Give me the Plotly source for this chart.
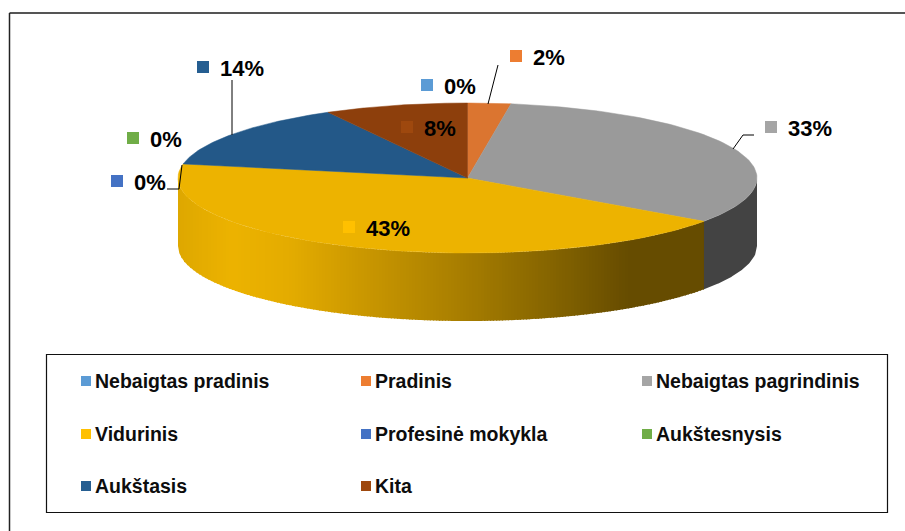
import numpy as np
import plotly.graph_objects as go

categories = ['Nebaigtas pradinis', 'Pradinis', 'Nebaigtas pagrindinis', 'Vidurinis',
              'Profesinė mokykla', 'Aukštesnysis', 'Aukštasis', 'Kita']
values = [0, 2.4, 32.4, 43.2, 0, 0, 14, 8]
pct_labels = ['0%', '2%', '33%', '43%', '0%', '0%', '14%', '8%']
legend_colors = ['#5B9BD5', '#ED7D31', '#A5A5A5', '#FFC000', '#4472C4', '#70AD47', '#255E91', '#9E480E']
top_colors = ['#5B9BD5', '#DB7530', '#9A9A9A', '#EDB300', '#4472C4', '#70AD47', '#235888', '#8D3F0C']

# label square centres, in pixels of the 905x531 canvas
label_x = [427, 516, 771, 349, 117, 133, 203, 407]
label_y = [85, 56, 127, 227, 181, 138, 67, 127]

# pie geometry
cx, cy, a, b, depth = 467.5, 178, 289.5, 75, 68


def rim(t):
    t = np.radians(t)
    return cx + a * np.sin(t), cy - b * np.cos(t)


def front_y(x):
    u = np.clip((x - cx) / a, -1, 1)
    return cy + b * np.sqrt(1 - u * u)


def lerp_color(x, stops):
    xs = [s[0] for s in stops]
    chans = [np.interp(x, xs, [s[1][i] for s in stops]) for i in range(3)]
    return 'rgb(%d,%d,%d)' % tuple(chans)


fig = go.Figure()

edges = np.cumsum([0] + values) / sum(values) * 360
split_x = rim(edges[3])[0]

# side wall, grey part
px = np.linspace(split_x - 1, cx + a, 60)
py = front_y(px)
fig.add_trace(go.Scatter(
    x=np.r_[px, px[::-1]], y=np.r_[py, (py + depth)[::-1]],
    fill='toself', fillcolor='#434343', mode='lines', line=dict(width=0),
    hoverinfo='skip', showlegend=False
))

# side wall, yellow part with its left-to-right gradient, painted in overlapping columns
side_stops = [
    (178, (222, 168, 0)), (232, (237, 179, 0)), (290, (228, 172, 0)), (370, (200, 150, 0)),
    (470, (165, 124, 0)), (560, (130, 98, 0)), (630, (102, 76, 0)), (704, (102, 76, 0)),
]
col_x = np.arange(cx - a, split_x, 3.0)
for x0 in col_x:
    x1 = min(x0 + 4, split_x)
    xs = np.linspace(x0, x1, 4)
    ys = front_y(xs)
    c = lerp_color(x0 + 1.5, side_stops)
    fig.add_trace(go.Scatter(
        x=np.r_[xs, xs[::-1]], y=np.r_[ys, (ys + depth)[::-1]],
        fill='toself', fillcolor=c, mode='lines', line=dict(width=0),
        hoverinfo='skip', showlegend=False
    ))

# top face
for i, v in enumerate(values):
    if v == 0:
        continue
    ts = np.linspace(edges[i], edges[i + 1], 80)
    px, py = rim(ts)
    fig.add_trace(go.Scatter(
        x=np.r_[cx, px, cx], y=np.r_[cy, py, cy],
        fill='toself', fillcolor=top_colors[i], mode='lines',
        line=dict(color=top_colors[i], width=0.5),
        name=categories[i], hoverinfo='name', showlegend=False
    ))

# leader lines
leaders = [
    ([488, 498], [104, 65]),
    ([232, 232], [135, 80]),
    ([733, 743, 754], [149, 135, 135]),
    ([182, 179, 167], [165, 189, 189]),
]
for lx, ly in leaders:
    fig.add_trace(go.Scatter(x=lx, y=ly, mode='lines', line=dict(color='#000000', width=1),
                             hoverinfo='skip', showlegend=False))

# data label squares
fig.add_trace(go.Scatter(
    x=label_x, y=label_y, mode='markers',
    marker=dict(symbol='square', size=12, color=legend_colors, line=dict(width=0)),
    hoverinfo='skip', showlegend=False
))
for i, txt in enumerate(pct_labels):
    fig.add_annotation(x=label_x[i] + 16, y=label_y[i] + 1, text='<b>%s</b>' % txt, showarrow=False,
                       xanchor='left', yanchor='middle', borderpad=0,
                       font=dict(family='Liberation Sans', size=22, color='#000000'))

# legend
legend_x = [86, 366, 647, 86, 366, 647, 86, 366]
legend_y = [381, 381, 381, 434, 434, 434, 486, 486]
fig.add_trace(go.Scatter(
    x=legend_x, y=legend_y, mode='markers',
    marker=dict(symbol='square', size=10, color=legend_colors, line=dict(width=0)),
    hoverinfo='skip', showlegend=False
))
for i, name in enumerate(categories):
    fig.add_annotation(x=legend_x[i] + 8, y=legend_y[i], text='<b>%s</b>' % name, showarrow=False,
                       xanchor='left', yanchor='middle', borderpad=0,
                       font=dict(family='Liberation Sans', size=19.5, color='#0D0D0D'))

# legend box and outer frame
fig.add_shape(type='rect', x0=46.5, y0=354.5, x1=887.5, y1=512.5, line=dict(color='#111111', width=1.2))
fig.add_shape(type='line', x0=9.5, y0=13, x1=905, y1=13, line=dict(color='#555555', width=2))
fig.add_shape(type='line', x0=9.5, y0=13, x1=9.5, y1=531, line=dict(color='#222222', width=1.5))

fig.update_layout(
    width=905, height=531,
    margin=dict(l=0, r=0, t=0, b=0),
    paper_bgcolor='white', plot_bgcolor='white',
    showlegend=False,
    xaxis=dict(range=[0, 905], visible=False, fixedrange=True),
    yaxis=dict(range=[531, 0], visible=False, fixedrange=True),
)

# the page's default body margin would push the fixed-size chart off the window
fig.write_html("out.html", config=dict(displayModeBar=False),
               post_script="document.body.style.margin='0';document.documentElement.style.overflow='hidden';")
